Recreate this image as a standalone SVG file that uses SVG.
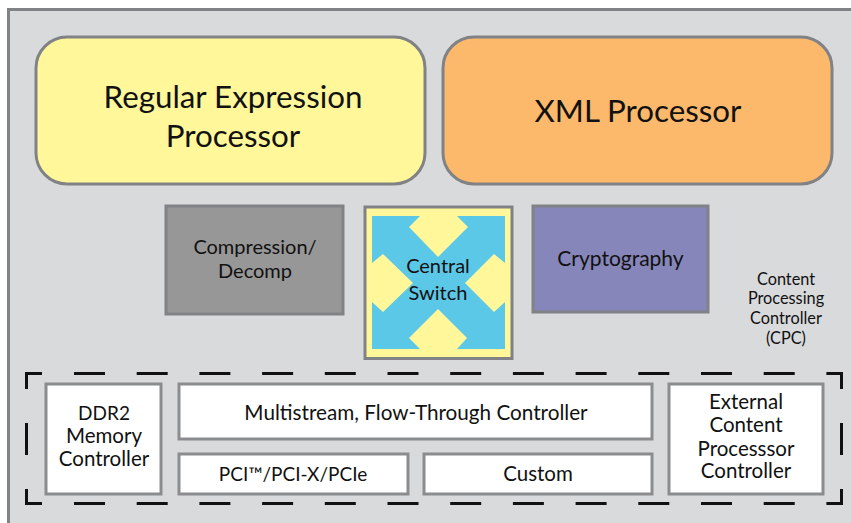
<svg xmlns="http://www.w3.org/2000/svg" width="851" height="523" viewBox="0 0 851 523">
<style>
text{font-family:Lato,"Noto Sans","Liberation Sans",sans-serif;fill:#111;text-anchor:middle}
.g{stroke:#808285;stroke-width:3}
.w{fill:#fff;stroke:#8a8c8e;stroke-width:3}
.d{fill:none;stroke:#111;stroke-width:3}
.xl{font-size:31.300px}.l{font-size:20px}.b{font-size:20.500px}.s{font-size:16.300px}
</style>
<rect width="851" height="523" fill="#fff"/>
<rect id="cpc-background" x="8.500" y="9.500" width="850" height="520" fill="#d9dadc" class="g"/>
<g id="regex"><rect x="36" y="37" width="389" height="147" rx="31" fill="#fff799" class="g"/><text class="xl" x="233" y="108">Regular Expression</text><text class="xl" x="233" y="147">Processor</text></g>
<g id="xml"><rect x="443" y="37" width="389" height="147" rx="31" fill="#fdb96b" class="g"/><text class="xl" x="638" y="122">XML Processor</text></g>
<g id="compression"><rect x="166" y="206" width="177" height="108" fill="#979798" class="g"/><text class="l" x="255" y="254">Compression/</text><text class="l" x="255" y="278">Decomp</text></g>
<g id="switch"><rect x="365" y="207" width="147" height="151.500" fill="#fff799" class="g"/><rect x="372" y="216" width="133" height="133" fill="#5cc8e8"/><path fill="#fff799" d="M409 227L420 216H457L468 227L438 257ZM372 263L383 254L413 283L383 312L372 302ZM505 263L494 254L465 283L494 312L505 302ZM409 338L438 309L467 338L457 349H420Z"/><text class="l" x="438" y="273">Central</text><text class="l" x="438" y="300">Switch</text></g>
<g id="crypto"><rect x="533" y="206" width="175" height="106" fill="#8686ba" class="g"/><text style="font-size:21px" x="620.500" y="266">Cryptography</text></g>
<g id="cpc-label"><text class="s" x="786" y="285">Content</text><text class="s" x="786" y="304">Processing</text><text class="s" x="786" y="324">Controller</text><text class="s" x="786" y="344">(CPC)</text></g>
<g id="connectors"><path class="d" stroke-dasharray="31 31.700" d="M74 373.500H827M74 503.500H827"/><path class="d" d="M42 373.500H26.500V389M26.500 489V503.500H42M827 373.500H841.500V389M841.500 489V503.500H827M26.500 423V455M841.500 423V455"/></g>
<g id="ddr2"><rect x="46" y="384" width="115" height="110" class="w"/><text style="font-size:19px" x="104" y="420">DDR2</text><text class="b" x="104" y="443">Memory</text><text class="b" x="104" y="466">Controller</text></g>
<g id="multistream"><rect x="179" y="384" width="473" height="55" class="w"/><text style="font-size:20.700px" x="416" y="420">Multistream, Flow-Through Controller</text></g>
<g id="pci"><rect x="179" y="454" width="229" height="40" class="w"/><text style="font-size:19px" x="293" y="481">PCI™/PCI-X/PCIe</text></g>
<g id="custom"><rect x="424" y="454" width="228" height="40" class="w"/><text class="b" x="538" y="481">Custom</text></g>
<g id="external"><rect x="669" y="384" width="154" height="110" class="w"/><text class="b" x="746" y="409">External</text><text class="b" x="746" y="432">Content</text><text class="b" x="746" y="456">Processsor</text><text class="b" x="746" y="478">Controller</text></g>
</svg>
